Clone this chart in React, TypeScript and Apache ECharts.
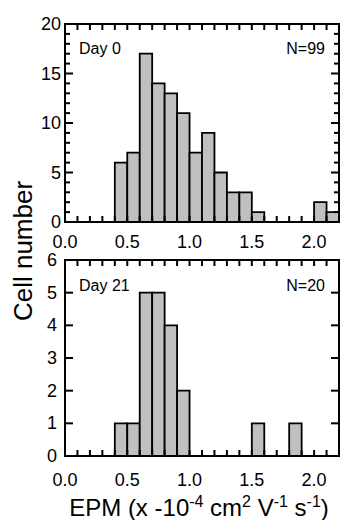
import React, { useEffect, useRef } from "react";
import * as echarts from "echarts";

const BIN_STARTS = [0.4, 0.5, 0.6, 0.7, 0.8, 0.9, 1.0, 1.1, 1.2, 1.3, 1.4, 1.5, 1.6, 1.7, 1.8, 1.9, 2.0, 2.1];
const BIN_WIDTH = 0.1;
const DAY0_COUNTS = [6, 7, 17, 14, 13, 11, 7, 9, 5, 3, 3, 1, 0, 0, 0, 0, 2, 1];
const DAY21_COUNTS = [1, 1, 5, 5, 4, 2, 0, 0, 0, 0, 0, 1, 0, 0, 1, 0, 0, 0];
const X_MIN = 0;
const X_MAX = 2.2;
const TOP_Y_MAX = 20;
const BOTTOM_Y_MAX = 6;
const X_TICKS = [0, 0.1, 0.2, 0.3, 0.4, 0.5, 0.6, 0.7, 0.8, 0.9, 1.0, 1.1, 1.2, 1.3, 1.4, 1.5, 1.6, 1.7, 1.8, 1.9, 2.0, 2.1, 2.2];
const TOP_Y_TICKS = [0, 1, 2, 3, 4, 5, 6, 7, 8, 9, 10, 11, 12, 13, 14, 15, 16, 17, 18, 19, 20];
const BOTTOM_Y_TICKS = [0, 1, 2, 3, 4, 5, 6];
const PANEL_LABELS = ["Day 0", "Day 21"];
const PANEL_N = ["N=99", "N=20"];
const Y_TITLE = "Cell number";

const FONT = "'Liberation Sans', Arial, Helvetica, sans-serif";

function buildData(counts: number[]) {
  return BIN_STARTS.map((s, i) => [s, s + BIN_WIDTH, counts[i]]);
}

function renderBar(params: any, api: any) {
  const start = api.value(0);
  const end = api.value(1);
  const count = api.value(2);
  if (!count) return null;
  const p1 = api.coord([start, count]);
  const p2 = api.coord([end, 0]);
  return {
    type: "rect",
    shape: { x: p1[0], y: p1[1], width: p2[0] - p1[0], height: p2[1] - p1[1] },
    style: { fill: "#c0c0c0", stroke: "#000", lineWidth: 1.8 },
  };
}

const TICK_FILL = { fill: "#000" };

// x ticks: data [x, yMin, yMax]; small filled bars pointing inward from bottom and top frames
function renderXTicks(params: any, api: any) {
  const v = api.value(0);
  const b = api.coord([v, api.value(1)]);
  const t = api.coord([v, api.value(2)]);
  return {
    type: "group",
    children: [
      { type: "rect", shape: { x: b[0] - 1, y: b[1] - 6, width: 2, height: 6 }, style: TICK_FILL },
      { type: "rect", shape: { x: t[0] - 1, y: t[1], width: 2, height: 6 }, style: TICK_FILL },
    ],
  };
}

// y ticks: data [xMin, y, xMax, majorStep]; pointing inward from left and right frames
function renderYTicks(params: any, api: any) {
  const v = api.value(1);
  const l = api.coord([api.value(0), v]);
  const r = api.coord([api.value(2), v]);
  const len = v % api.value(3) === 0 ? 8 : 5;
  return {
    type: "group",
    children: [
      { type: "rect", shape: { x: l[0], y: l[1] - 1, width: len, height: 2 }, style: TICK_FILL },
      { type: "rect", shape: { x: r[0] - len, y: r[1] - 1, width: len, height: 2 }, style: TICK_FILL },
    ],
  };
}

const xLabelFmt = (v: number) => {
  const t = Math.round(v * 10);
  return t % 5 === 0 ? (t / 10).toFixed(1) : "";
};

function xAxis(gridIndex: number, labelMargin: number) {
  return {
    type: "value",
    gridIndex,
    min: X_MIN,
    max: X_MAX,
    interval: 0.1,
    axisLine: { show: true, onZero: false, lineStyle: { color: "#000", width: 2 } },
    axisTick: { show: false },
    axisLabel: {
      show: true,
      formatter: xLabelFmt,
      color: "#000",
      fontSize: 18,
      fontFamily: FONT,
      margin: labelMargin,
    },
    splitLine: { show: false },
  };
}

function yAxis(gridIndex: number, max: number, interval: number, labelMargin: number) {
  return {
    type: "value",
    gridIndex,
    min: 0,
    max,
    interval,
    axisLine: { show: true, onZero: false, lineStyle: { color: "#000", width: 2 } },
    axisTick: { show: false },
    axisLabel: { show: true, color: "#000", fontSize: 18, fontFamily: FONT, margin: labelMargin },
    splitLine: { show: false },
  };
}

function tickSeries(axisIndex: number, yMax: number, yTicks: number[], step: number) {
  return [
    {
      type: "custom",
      xAxisIndex: axisIndex,
      yAxisIndex: axisIndex,
      clip: false,
      renderItem: renderXTicks,
      data: X_TICKS.map((v) => [v, 0, yMax]),
    },
    {
      type: "custom",
      xAxisIndex: axisIndex,
      yAxisIndex: axisIndex,
      clip: false,
      renderItem: renderYTicks,
      data: yTicks.map((v) => [X_MIN, v, X_MAX, step]),
    },
  ];
}

export default function App() {
  const ref = useRef<HTMLDivElement>(null);
  useEffect(() => {
    if (!ref.current) return;
    const chart = echarts.init(ref.current, undefined, { renderer: "svg" });
    const textStyle = { fill: "#000", fontFamily: FONT };
    chart.setOption({
      animation: false,
      backgroundColor: "#fff",
      grid: [
        { left: 65, top: 24, width: 280, height: 198, show: true, borderColor: "#000", borderWidth: 2, backgroundColor: "transparent" },
        { left: 65, top: 260, width: 280, height: 196, show: true, borderColor: "#000", borderWidth: 2, backgroundColor: "transparent" },
      ],
      xAxis: [xAxis(0, 11), xAxis(1, 15)],
      yAxis: [yAxis(0, TOP_Y_MAX, 5, 4), yAxis(1, BOTTOM_Y_MAX, 1, 8)],
      series: [
        {
          type: "custom",
          xAxisIndex: 0,
          yAxisIndex: 0,
          renderItem: renderBar,
          data: buildData(DAY0_COUNTS),
          clip: false,
        },
        {
          type: "custom",
          xAxisIndex: 1,
          yAxisIndex: 1,
          renderItem: renderBar,
          data: buildData(DAY21_COUNTS),
          clip: false,
        },
        ...tickSeries(0, TOP_Y_MAX, TOP_Y_TICKS, 5),
        ...tickSeries(1, BOTTOM_Y_MAX, BOTTOM_Y_TICKS, 1),
      ],
      graphic: [
        { type: "text", left: 79, top: 40, style: { ...textStyle, text: PANEL_LABELS[0], fontSize: 16 } },
        { type: "text", right: 17, top: 40, style: { ...textStyle, text: PANEL_N[0], fontSize: 16 } },
        { type: "text", left: 79, top: 277, style: { ...textStyle, text: PANEL_LABELS[1], fontSize: 16 } },
        { type: "text", right: 17, top: 277, style: { ...textStyle, text: PANEL_N[1], fontSize: 16 } },
        {
          type: "text",
          x: 23,
          y: 251,
          rotation: Math.PI / 2,
          style: { ...textStyle, text: Y_TITLE, fontSize: 26, align: "center", verticalAlign: "middle" },
        },
        {
          type: "text",
          x: 199,
          y: 506,
          style: {
            ...textStyle,
            align: "center",
            verticalAlign: "middle",
            text: "{m|EPM (x -10}{s|-4}{m| cm}{s|2}{m| V}{s|-1}{m| s}{s|-1}{m|)}",
            rich: {
              m: { fontSize: 24, fontFamily: FONT, fill: "#000", lineHeight: 26, verticalAlign: "bottom" },
              s: { fontSize: 16, fontFamily: FONT, fill: "#000", lineHeight: 26, verticalAlign: "top" },
            },
          },
        },
      ],
    });
    return () => chart.dispose();
  }, []);
  return <div ref={ref} style={{ position: "fixed", left: 0, top: 0, width: 342, height: 520 }} />;
}
